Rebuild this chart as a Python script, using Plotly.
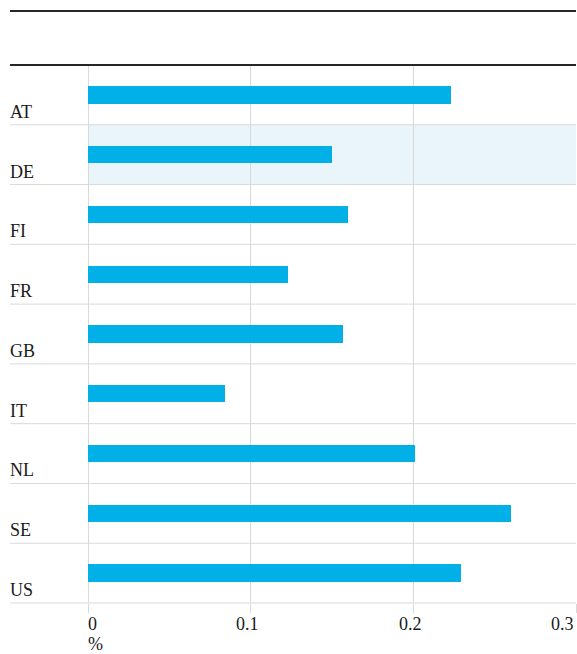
import plotly.graph_objects as go

# country values (in %)
countries = ['AT', 'DE', 'FI', 'FR', 'GB', 'IT', 'NL', 'SE', 'US']
values = [0.223, 0.150, 0.160, 0.123, 0.157, 0.084, 0.201, 0.260, 0.229]
tick_vals = [0, 0.1, 0.2, 0.3]
tick_text = ['0', '0.1', '0.2', '0.3']
highlight = 'DE'

W, H = 577, 654
L, R, T, B = 88, 1, 65, 51
FONT = 'Liberation Serif, Times New Roman, serif'
BAR = '#00b0e6'
GRID = '#d9d9d9'

n = len(countries)
pos = list(range(n))
plot_w = W - L - R
left_edge = (10 - L) / plot_w  # paper x where the row lines / labels start

fig = go.Figure()
fig.add_trace(go.Bar(
    x=values, y=pos, orientation='h',
    marker=dict(color=BAR, line=dict(width=0)),
    width=0.29, hoverinfo='x+text', text=countries, textposition='none',
))

shapes = []
# highlighted row
i_hl = countries.index(highlight)
shapes.append(dict(type='rect', xref='paper', yref='y', x0=0, x1=1,
                   y0=i_hl - 0.5, y1=i_hl + 0.5, fillcolor='#eaf4fb',
                   line=dict(width=0), layer='below'))
# row separators
for k in range(n):
    shapes.append(dict(type='line', xref='paper', yref='paper',
                       x0=left_edge, x1=1, y0=k / n, y1=k / n,
                       line=dict(color=GRID, width=1)))
# dark header rules
top_rule = (H - B - 11) / (H - T - B)
for yy in [1, top_rule]:
    shapes.append(dict(type='line', xref='paper', yref='paper',
                       x0=left_edge, x1=1, y0=yy, y1=yy,
                       line=dict(color='#262626', width=2)))

annotations = []
for i, c in enumerate(countries):
    annotations.append(dict(text=c, xref='paper', yref='y', x=left_edge, y=i + 0.5,
                            xanchor='left', yanchor='bottom', yshift=1, xshift=-2,
                            showarrow=False,
                            font=dict(family=FONT, size=18, color='#1a1a1a')))
anchors = ['left'] + ['center'] * (len(tick_vals) - 2) + ['right']
shifts = {'left': -2, 'center': -3, 'right': 0}
for v, t, a in zip(tick_vals, tick_text, anchors):
    annotations.append(dict(text=t, xref='x', yref='paper', x=v, y=0, xanchor=a,
                            yanchor='top', yshift=-10, xshift=shifts[a],
                            height=18, valign='middle', showarrow=False,
                            font=dict(family=FONT, size=18, color='#1a1a1a')))
# unit label under the zero tick (tight box so it stays inside the page)
annotations.append(dict(text='%', xref='x', yref='paper', x=0, y=0, xanchor='left',
                        yanchor='top', yshift=-30, xshift=-2, height=18, valign='middle',
                        showarrow=False,
                        font=dict(family=FONT, size=18, color='#1a1a1a')))

fig.update_layout(
    width=W, height=H,
    margin=dict(l=L, r=R, t=T, b=B),
    paper_bgcolor='white', plot_bgcolor='rgba(0,0,0,0)',
    showlegend=False, bargap=0,
    shapes=shapes, annotations=annotations,
    xaxis=dict(range=[0, 0.3], tickvals=tick_vals, showticklabels=False,
               showgrid=True, gridcolor=GRID, gridwidth=1,
               zeroline=True, zerolinecolor=GRID, zerolinewidth=1,
               ticks='outside', ticklen=9, tickcolor=GRID, tickwidth=1,
               showline=False, fixedrange=True),
    yaxis=dict(range=[n - 0.5, -0.5], showticklabels=False, showgrid=False,
               zeroline=False, ticks='', showline=False, fixedrange=True),
)

# page body has a default 8px margin; drop it so the figure fills the window
fig.write_html('out.html', config={'displayModeBar': False},
               post_script="document.body.style.margin='0';")
